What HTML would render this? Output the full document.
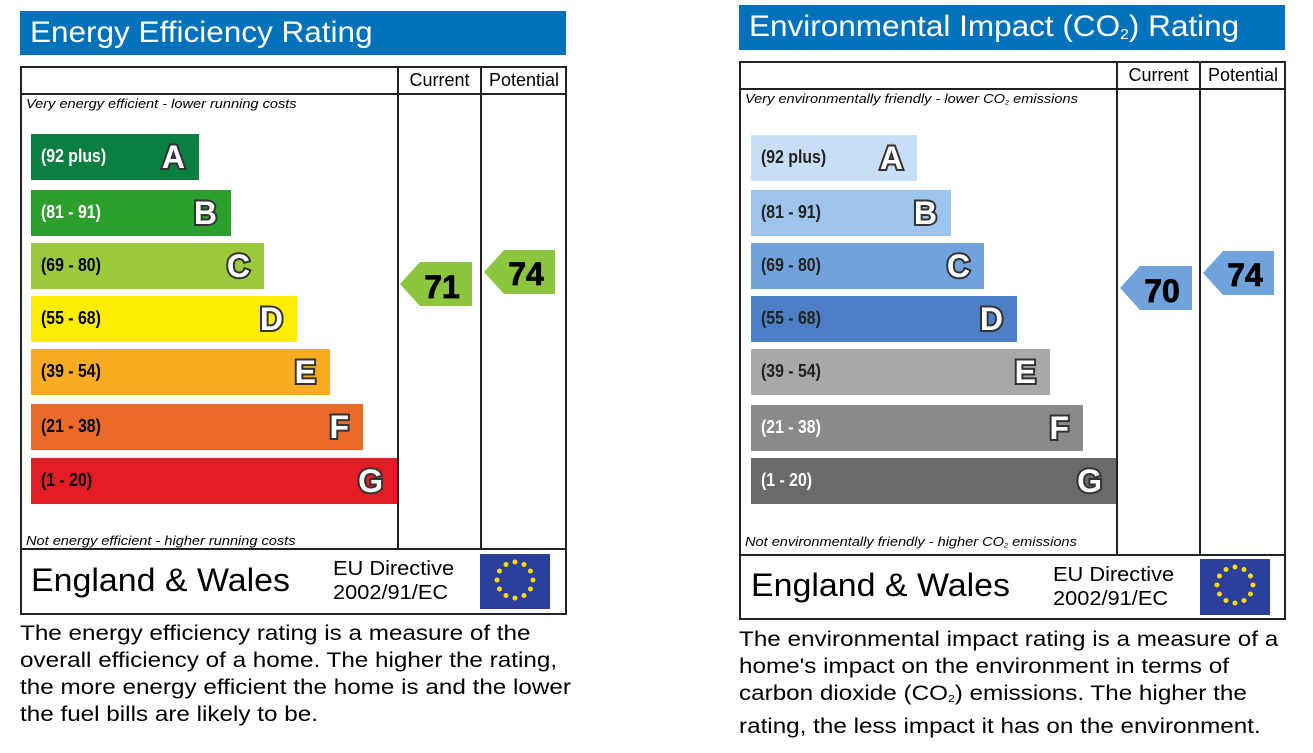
<!DOCTYPE html>
<html><head><meta charset="utf-8"><style>
*{margin:0;padding:0;box-sizing:border-box}
body{width:1313px;height:753px;background:#fff;position:relative;overflow:hidden;font-family:"Liberation Sans",Arial,sans-serif;color:#000}
.a{position:absolute}
.title{background:#0072bc;color:#fff;font-size:30px;line-height:44px;padding-left:10px;white-space:nowrap}
.title span{display:inline-block;transform:scaleX(1.05);transform-origin:left}
.box{border:2px solid #222}
.ln{background:#222}
.hd{font-size:18px;text-align:center;line-height:26px}
.it{font-style:italic;font-size:13px;white-space:nowrap;transform:scaleX(1.12);transform-origin:left}
.bar{height:46px}
.rng{position:absolute;left:10px;top:12px;font-weight:bold;font-size:18px;transform:scaleX(.88);transform-origin:left;white-space:nowrap}
.let{position:absolute;right:14px;top:4px;font-weight:bold;font-size:32px;color:#fff;-webkit-text-stroke:4px #333;paint-order:stroke fill;line-height:38px}
.ew{font-size:32px;white-space:nowrap;transform:scaleX(1.06);transform-origin:left}
.eu{font-size:20px;line-height:24px;white-space:nowrap;transform:scaleX(1.09);transform-origin:left}
.p{font-size:21px;line-height:27px;white-space:nowrap;transform:scaleX(1.155);transform-origin:left}
sub{font-size:.5em;vertical-align:-0.2em}
</style></head><body>

<!-- LEFT -->
<div class="a title" style="left:20px;top:11px;width:546px;height:44px"><span>Energy Efficiency Rating</span></div>
<div class="a box" style="left:20px;top:66px;width:547px;height:549px"></div>
<div class="a ln" style="left:20px;top:93px;width:547px;height:2px"></div>
<div class="a ln" style="left:397px;top:66px;width:2px;height:484px"></div>
<div class="a ln" style="left:480px;top:66px;width:2px;height:484px"></div>
<div class="a ln" style="left:20px;top:548px;width:547px;height:2px"></div>
<div class="a hd" style="left:399px;top:67px;width:81px">Current</div>
<div class="a hd" style="left:482px;top:67px;width:84px">Potential</div>
<div class="a it" style="left:26px;top:96px">Very energy efficient - lower running costs</div>
<div class="a it" style="left:26px;top:533px">Not energy efficient - higher running costs</div>

<div class="a bar" style="left:31px;top:134px;width:168px;background:#0a8040"><div class="rng" style="color:#fff">(92 plus)</div><div class="let">A</div></div>
<div class="a bar" style="left:31px;top:190px;width:200px;background:#2ca02c"><div class="rng" style="color:#fff">(81 - 91)</div><div class="let">B</div></div>
<div class="a bar" style="left:31px;top:243px;width:233px;background:#9bc93c"><div class="rng">(69 - 80)</div><div class="let">C</div></div>
<div class="a bar" style="left:31px;top:296px;width:266px;background:#ffee00"><div class="rng">(55 - 68)</div><div class="let">D</div></div>
<div class="a bar" style="left:31px;top:349px;width:299px;background:#f7ac22"><div class="rng">(39 - 54)</div><div class="let">E</div></div>
<div class="a bar" style="left:31px;top:404px;width:332px;background:#ec6a28"><div class="rng">(21 - 38)</div><div class="let">F</div></div>
<div class="a bar" style="left:31px;top:458px;width:366px;background:#e31d23"><div class="rng">(1 - 20)</div><div class="let">G</div></div>

<svg class="a" style="left:400px;top:262px" width="72" height="44"><polygon points="0,22 20,0 72,0 72,44 20,44" fill="#8cc63f"/><text x="42" y="36" font-family="Liberation Sans" font-weight="bold" font-size="32" text-anchor="middle" stroke="#000" stroke-width="0.8">71</text></svg>
<svg class="a" style="left:484px;top:250px" width="71" height="44"><polygon points="0,22 20,0 71,0 71,44 20,44" fill="#8cc63f"/><text x="42" y="35" font-family="Liberation Sans" font-weight="bold" font-size="32" text-anchor="middle" stroke="#000" stroke-width="0.8">74</text></svg>

<div class="a ew" style="left:31px;top:562px">England &amp; Wales</div>
<div class="a eu" style="left:333px;top:557px">EU Directive<br>2002/91/EC</div>
<svg class="a" style="left:480px;top:554px" width="70" height="55"><rect width="70" height="55" fill="#2c3f9a"/>
<g fill="#ffdd00"><circle cx="35" cy="8" r="2.5"/><circle cx="44" cy="10.5" r="2.5"/><circle cx="50.5" cy="17" r="2.5"/><circle cx="53" cy="26" r="2.5"/><circle cx="50.5" cy="35" r="2.5"/><circle cx="44" cy="41.5" r="2.5"/><circle cx="35" cy="44" r="2.5"/><circle cx="26" cy="41.5" r="2.5"/><circle cx="19.5" cy="35" r="2.5"/><circle cx="17" cy="26" r="2.5"/><circle cx="19.5" cy="17" r="2.5"/><circle cx="26" cy="10.5" r="2.5"/></g></svg>

<div class="a p" style="left:20px;top:620px">The energy efficiency rating is a measure of the<br>overall efficiency of a home. The higher the rating,<br>the more energy efficient the home is and the lower<br>the fuel bills are likely to be.</div>

<!-- RIGHT -->
<div class="a title" style="left:739px;top:5px;width:546px;height:45px"><span>Environmental Impact (CO<sub>2</sub>) Rating</span></div>
<div class="a box" style="left:739px;top:61px;width:547px;height:559px"></div>
<div class="a ln" style="left:739px;top:88px;width:547px;height:2px"></div>
<div class="a ln" style="left:1116px;top:61px;width:2px;height:494px"></div>
<div class="a ln" style="left:1199px;top:61px;width:2px;height:494px"></div>
<div class="a ln" style="left:739px;top:554px;width:547px;height:2px"></div>
<div class="a hd" style="left:1118px;top:62px;width:81px">Current</div>
<div class="a hd" style="left:1201px;top:62px;width:84px">Potential</div>
<div class="a it" style="left:745px;top:91px">Very environmentally friendly - lower CO<sub>2</sub> emissions</div>
<div class="a it" style="left:745px;top:534px">Not environmentally friendly - higher CO<sub>2</sub> emissions</div>

<div class="a bar" style="left:751px;top:135px;width:166px;background:#c8def4"><div class="rng" style="color:#222">(92 plus)</div><div class="let">A</div></div>
<div class="a bar" style="left:751px;top:190px;width:200px;background:#9dc4ec"><div class="rng" style="color:#222">(81 - 91)</div><div class="let">B</div></div>
<div class="a bar" style="left:751px;top:243px;width:233px;background:#70a3dc"><div class="rng" style="color:#222">(69 - 80)</div><div class="let">C</div></div>
<div class="a bar" style="left:751px;top:296px;width:266px;background:#4c7fc6"><div class="rng" style="color:#222">(55 - 68)</div><div class="let">D</div></div>
<div class="a bar" style="left:751px;top:349px;width:299px;background:#a8a8a8"><div class="rng" style="color:#222">(39 - 54)</div><div class="let">E</div></div>
<div class="a bar" style="left:751px;top:405px;width:332px;background:#8a8a8a"><div class="rng" style="color:#fff">(21 - 38)</div><div class="let">F</div></div>
<div class="a bar" style="left:751px;top:458px;width:365px;background:#6a6a6a"><div class="rng" style="color:#fff">(1 - 20)</div><div class="let">G</div></div>

<svg class="a" style="left:1120px;top:266px" width="72" height="44"><polygon points="0,22 20,0 72,0 72,44 20,44" fill="#70a3dc"/><text x="42" y="36" font-family="Liberation Sans" font-weight="bold" font-size="32" text-anchor="middle" stroke="#000" stroke-width="0.8">70</text></svg>
<svg class="a" style="left:1203px;top:251px" width="71" height="44"><polygon points="0,22 20,0 71,0 71,44 20,44" fill="#70a3dc"/><text x="42" y="35" font-family="Liberation Sans" font-weight="bold" font-size="32" text-anchor="middle" stroke="#000" stroke-width="0.8">74</text></svg>

<div class="a ew" style="left:751px;top:567px">England &amp; Wales</div>
<div class="a eu" style="left:1053px;top:563px">EU Directive<br>2002/91/EC</div>
<svg class="a" style="left:1200px;top:559px" width="70" height="56"><rect width="70" height="56" fill="#2c3f9a"/>
<g fill="#ffdd00"><circle cx="35" cy="8" r="2.5"/><circle cx="44" cy="10.5" r="2.5"/><circle cx="50.5" cy="17" r="2.5"/><circle cx="53" cy="26" r="2.5"/><circle cx="50.5" cy="35" r="2.5"/><circle cx="44" cy="41.5" r="2.5"/><circle cx="35" cy="44" r="2.5"/><circle cx="26" cy="41.5" r="2.5"/><circle cx="19.5" cy="35" r="2.5"/><circle cx="17" cy="26" r="2.5"/><circle cx="19.5" cy="17" r="2.5"/><circle cx="26" cy="10.5" r="2.5"/></g></svg>

<div class="a p" style="left:739px;top:626px">The environmental impact rating is a measure of a<br>home's impact on the environment in terms of<br>carbon dioxide (CO<sub>2</sub>) emissions. The higher the</div>
<div class="a p" style="left:739px;top:713px">rating, the less impact it has on the environment.</div>
</body></html>
